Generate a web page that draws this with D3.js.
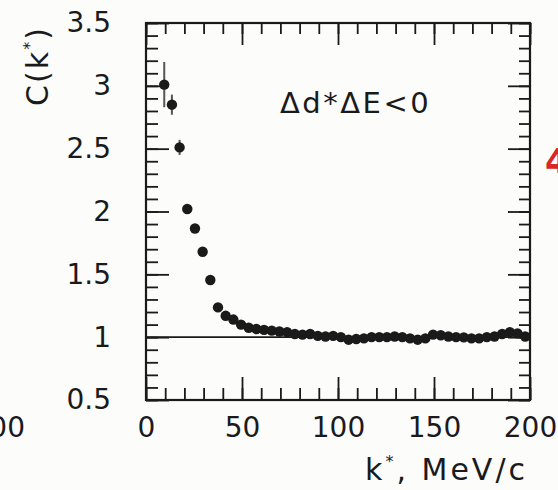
<!DOCTYPE html>
<html>
<head>
<meta charset="utf-8">
<script src="https://cdn.jsdelivr.net/npm/d3@7"></script>
<style>
  html, body { margin: 0; padding: 0; background: #fcfcfa; overflow: hidden; }
  svg text { font-family: "DejaVu Sans", sans-serif; fill: #1a1a1a; }
</style>
</head>
<body>
<div id="viz"></div>
<script>
/* data */
const kValues = [
  9.5, 13.5, 17.5, 21.5, 25.5, 29.5, 33.5, 37.5, 41.5, 45.5,
  49.5, 53.5, 57.5, 61.5, 65.5, 69.5, 73.5, 77.5, 81.5, 85.5,
  89.5, 93.5, 97.5, 101.5, 105.5, 109.5, 113.5, 117.5, 121.5, 125.5,
  129.5, 133.5, 137.5, 141.5, 145.5, 149.5, 153.5, 157.5, 161.5, 165.5,
  169.5, 173.5, 177.5, 181.5, 185.5, 189.5, 193.5, 197.5
];
const cValues = [
  3.01, 2.85, 2.51, 2.02, 1.865, 1.68, 1.455, 1.237, 1.17, 1.14,
  1.10, 1.075, 1.065, 1.058, 1.052, 1.045, 1.04, 1.025, 1.02, 1.025,
  1.01, 1.005, 1.01, 1.0, 0.98, 0.985, 0.99, 1.0, 1.0, 1.0,
  1.005, 1.0, 0.99, 0.98, 0.99, 1.02, 1.015, 1.005, 1.0, 0.998,
  0.99, 0.99, 1.0, 1.005, 1.025, 1.04, 1.03, 1.005
];
const cErrors = [
  0.18, 0.08, 0.06, 0, 0, 0, 0, 0, 0, 0,
  0, 0, 0, 0, 0, 0, 0, 0, 0, 0,
  0, 0, 0, 0, 0, 0, 0, 0, 0, 0,
  0, 0, 0, 0, 0, 0, 0, 0, 0, 0,
  0, 0, 0, 0, 0, 0, 0, 0
];
const xMajorTicks = [0, 50, 100, 150, 200];
const xMinorTicks = d3.range(0, 201, 10);
const yMajorTicks = [0.5, 1, 1.5, 2, 2.5, 3, 3.5];
const yMinorTicks = d3.range(5, 36, 1).map(d => d / 10);

const data = kValues.map((k, i) => ({ k: k, c: cValues[i], err: cErrors[i] }));

const W = 558, H = 490;
const margin = { top: 23, right: 28, bottom: 90, left: 146 },
      width  = W - margin.left - margin.right,
      height = H - margin.top - margin.bottom;

const root = d3.select("#viz")
  .append("svg")
  .attr("width", W)
  .attr("height", H);

const svg = root.append("g")
  .attr("transform", `translate(${margin.left},${margin.top})`);

// scales
const x = d3.scaleLinear().domain([0, 200]).range([0, width]);
const y = d3.scaleLinear().domain([0.5, 3.5]).range([height, 0]);

// ticks on all four sides, pointing inward
function tickAxis(axisFn, scale, values, size, transform) {
  const g = svg.append("g")
    .attr("transform", transform)
    .call(axisFn(scale).tickValues(values).tickSize(-size).tickFormat(""));
  g.select(".domain").remove();
  g.selectAll("line").attr("stroke", "#1a1a1a").attr("stroke-width", 1.8);
  return g;
}
tickAxis(d3.axisBottom, x, xMinorTicks, 12, `translate(0,${height})`);
tickAxis(d3.axisBottom, x, xMajorTicks, 23, `translate(0,${height})`);
tickAxis(d3.axisTop, x, xMinorTicks, 11, "translate(0,0)");
tickAxis(d3.axisTop, x, xMajorTicks, 22, "translate(0,0)");
tickAxis(d3.axisLeft, y, yMinorTicks, 12, "translate(0,0)");
tickAxis(d3.axisLeft, y, yMajorTicks, 23, "translate(0,0)");
tickAxis(d3.axisRight, y, yMinorTicks, 11, `translate(${width},0)`);
tickAxis(d3.axisRight, y, yMajorTicks, 22, `translate(${width},0)`);

// tick labels
svg.append("g")
  .attr("transform", `translate(0,${height})`)
  .call(d3.axisBottom(x).tickValues(xMajorTicks).tickSize(0).tickPadding(17))
  .call(g => g.select(".domain").remove())
  .selectAll("text")
  .attr("font-size", 28)
  .attr("font-family", "DejaVu Sans");

svg.append("g")
  .call(d3.axisLeft(y).tickValues(yMajorTicks).tickSize(0).tickPadding(35)
    .tickFormat(d => String(d)))
  .call(g => g.select(".domain").remove())
  .selectAll("text")
  .attr("font-size", 28)
  .attr("font-family", "DejaVu Sans");

// frame
svg.append("rect")
  .attr("width", width)
  .attr("height", height)
  .attr("fill", "none")
  .attr("stroke", "#1a1a1a")
  .attr("stroke-width", 2.2);

// reference line at C = 1
svg.append("line")
  .attr("x1", 0)
  .attr("x2", width)
  .attr("y1", y(1))
  .attr("y2", y(1))
  .attr("stroke", "#1a1a1a")
  .attr("stroke-width", 1.6);

// error bars
svg.selectAll("line.err")
  .data(data.filter(d => d.err > 0))
  .join("line")
  .attr("class", "err")
  .attr("x1", d => x(d.k))
  .attr("x2", d => x(d.k))
  .attr("y1", d => y(d.c + d.err))
  .attr("y2", d => y(d.c - d.err))
  .attr("stroke", "#555")
  .attr("stroke-width", 2);

// points
svg.selectAll("circle")
  .data(data)
  .join("circle")
  .attr("cx", d => x(d.k))
  .attr("cy", d => y(d.c))
  .attr("r", 5.2)
  .attr("fill", "#1a1a1a");

// annotation
svg.append("text")
  .attr("x", 134)
  .attr("y", 90)
  .attr("font-size", 29)
  .attr("letter-spacing", 2.5)
  .text("\u0394d*\u0394E<0");

// axis titles
const xt = root.append("text")
  .attr("x", 528)
  .attr("y", 480)
  .attr("text-anchor", "end")
  .attr("font-size", 30)
  .attr("letter-spacing", 3);
xt.append("tspan").text("k");
xt.append("tspan").attr("dy", -13).attr("font-size", 16).text("*");
xt.append("tspan").attr("dy", 13).text(", MeV/c");

const yt = root.append("text")
  .attr("transform", "translate(48,66) rotate(-90)")
  .attr("text-anchor", "middle")
  .attr("font-size", 30)
  .attr("letter-spacing", 2);
yt.append("tspan").text("C(k");
yt.append("tspan").attr("dy", -13).attr("font-size", 16).text("*");
yt.append("tspan").attr("dy", 13).text(")");

// cut-off pieces of the neighbouring panels
root.append("text")
  .attr("x", 25)
  .attr("y", 437)
  .attr("text-anchor", "end")
  .attr("font-size", 28)
  .text("200");

root.append("text")
  .attr("x", 545)
  .attr("y", 173)
  .attr("font-size", 34)
  .attr("font-weight", "bold")
  .style("fill", "#d8262a")
  .text("4");
</script>
</body>
</html>
